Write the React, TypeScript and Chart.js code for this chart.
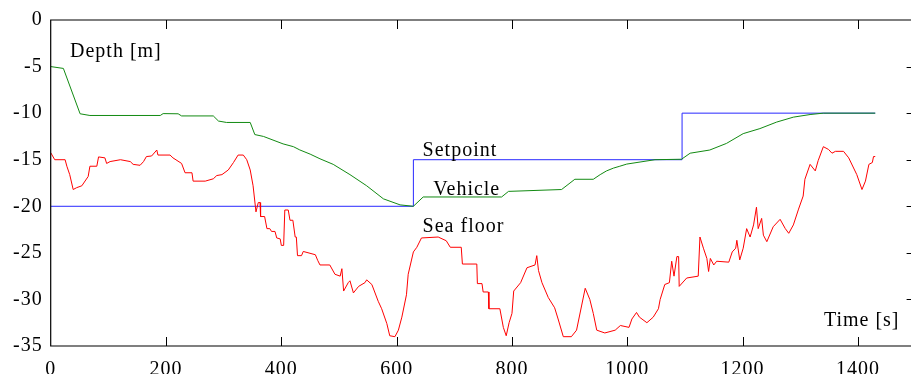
import React, { useEffect, useRef } from "react";
import { Chart, registerables } from "chart.js";

Chart.register(...registerables);

const xTickValues = [0, 200, 400, 600, 800, 1000, 1200, 1400];
const yTickValues = [0, -5, -10, -15, -20, -25, -30, -35];

const setpointTime = [0, 629, 629, 1095, 1095, 1430];
const setpointDepth = [-20, -20, -15, -15, -10, -10];

const vehicleTime = [0, 22, 51, 68, 190, 195, 221, 227, 282, 291, 305, 346, 354, 369, 403, 421, 432, 450, 467, 490, 519, 548, 577, 606, 629, 646, 782, 794, 886, 909, 941, 953, 964, 976, 987, 999, 1048, 1094, 1109, 1143, 1172, 1201, 1230, 1259, 1288, 1317, 1340, 1430];
const vehicleDepth = [-5, -5.2, -10.07, -10.25, -10.25, -10.05, -10.07, -10.3, -10.3, -10.85, -11.0, -11.0, -12.3, -12.5, -13.3, -13.6, -13.95, -14.4, -14.9, -15.5, -16.6, -17.8, -19.2, -19.85, -20, -19.0, -19.0, -18.4, -18.2, -17.1, -17.1, -16.6, -16.2, -15.9, -15.7, -15.47, -15.0, -14.95, -14.3, -13.96, -13.25, -12.2, -11.66, -10.96, -10.43, -10.15, -10.0, -10.0];

const seafloorTime = [0, 7, 25, 28, 33, 39, 45, 54, 65, 68, 80, 83, 94, 97, 103, 121, 138, 143, 155, 161, 166, 175, 184, 186, 207, 212, 227, 233, 245, 247, 268, 282, 288, 297, 308, 317, 325, 334, 340, 346, 351, 356, 360, 363, 364, 371, 375, 380, 383, 389, 392, 398, 400, 404, 406, 412, 415, 420, 424, 426, 428, 435, 438, 459, 463, 467, 484, 493, 502, 505, 508, 516, 519, 525, 534, 545, 548, 557, 568, 574, 583, 588, 597, 603, 609, 617, 620, 629, 635, 643, 672, 686, 693, 712, 714, 739, 740, 748, 750, 759, 760, 779, 785, 790, 795, 800, 803, 815, 826, 840, 843, 846, 852, 863, 874, 880, 889, 903, 912, 921, 927, 935, 941, 947, 961, 979, 988, 1003, 1008, 1016, 1021, 1034, 1045, 1054, 1057, 1065, 1073, 1077, 1081, 1086, 1089, 1090, 1103, 1123, 1126, 1132, 1138, 1141, 1144, 1150, 1155, 1176, 1182, 1188, 1190, 1195, 1201, 1207, 1213, 1219, 1224, 1227, 1233, 1236, 1242, 1253, 1265, 1274, 1280, 1288, 1297, 1305, 1308, 1317, 1326, 1331, 1340, 1349, 1355, 1361, 1375, 1384, 1398, 1407, 1413, 1419, 1425, 1427, 1430];
const seafloorDepth = [-14.24, -15.0, -15.0, -15.7, -16.6, -18.2, -18.0, -17.8, -16.8, -15.7, -15.7, -14.7, -14.8, -15.4, -15.2, -15.0, -15.2, -15.5, -15.6, -15.2, -14.66, -14.6, -13.96, -14.5, -14.5, -14.8, -15.4, -16.4, -16.4, -17.3, -17.3, -17.05, -16.7, -16.6, -16.1, -15.3, -14.5, -14.5, -15.0, -16.1, -17.8, -20.6, -19.6, -19.6, -21.1, -21.1, -22.4, -22.4, -22.7, -22.7, -23.4, -23.5, -24.2, -24.2, -20.4, -20.4, -21.5, -21.5, -23.3, -23.3, -25.3, -25.3, -24.85, -25.2, -25.8, -26.3, -26.3, -27.3, -27.5, -26.7, -29.1, -28.2, -28.0, -29.3, -28.6, -28.2, -27.9, -28.4, -30.2, -31.0, -32.6, -33.9, -34.0, -33.3, -31.9, -29.5, -27.3, -24.9, -24.4, -23.4, -23.3, -23.7, -24.4, -24.4, -26.2, -26.2, -28.3, -28.3, -29.2, -29.2, -31.0, -31.0, -33.0, -33.9, -32.5, -31.5, -29.1, -28.2, -26.6, -26.3, -25.3, -26.9, -28.2, -29.8, -30.9, -32.1, -34.0, -34.0, -33.3, -30.6, -28.8, -30.0, -31.5, -33.3, -33.6, -33.3, -32.8, -33.0, -32.1, -31.4, -31.9, -32.5, -31.9, -31.0, -30.0, -28.4, -28.2, -25.9, -27.5, -25.4, -25.4, -28.6, -27.7, -27.5, -23.3, -24.5, -25.6, -27.0, -25.6, -26.3, -25.9, -26.0, -24.9, -24.5, -23.65, -25.76, -24.5, -22.4, -23.3, -22.0, -20.1, -22.4, -21.3, -23.1, -23.8, -22.2, -21.4, -22.4, -22.9, -22.0, -20.3, -18.9, -17.1, -15.5, -16.2, -15.1, -13.6, -13.9, -14.3, -14.1, -14.1, -14.8, -16.6, -18.2, -17.3, -15.5, -15.3, -14.66, -14.66];

const labelTexts = ["Depth [m]", "Setpoint", "Vehicle", "Sea floor", "Time [s]"];
const labelX = [33.5, 645, 663.5, 645, 1341];
const labelY = [-3.94, -14.55, -18.78, -22.77, -32.89];

const FONT = '"Liberation Serif", "Times New Roman", serif';

function pts(xs: number[], ys: number[]) {
  return xs.map((x, i) => ({ x, y: ys[i] }));
}

const framePlugin = {
  id: "frame",
  beforeDraw(chart: any) {
    chart.ctx.letterSpacing = "1px";
  },
  afterDraw(chart: any) {
    const ctx = chart.ctx;
    const a = chart.chartArea;
    const xs = chart.scales.x;
    const ys = chart.scales.y;
    ctx.save();
    ctx.strokeStyle = "#000";
    ctx.lineWidth = 1.2;
    ctx.beginPath();
    ctx.rect(a.left, a.top, a.right - a.left, a.bottom - a.top);
    ctx.stroke();
    ctx.lineWidth = 1;
    ctx.beginPath();
    const tl = 9;
    xTickValues.forEach((v) => {
      if (v === 0) return;
      const px = Math.round(xs.getPixelForValue(v)) + 0.5;
      ctx.moveTo(px, a.top);
      ctx.lineTo(px, a.top + tl);
      ctx.moveTo(px, a.bottom);
      ctx.lineTo(px, a.bottom - tl);
    });
    yTickValues.forEach((v) => {
      if (v === 0 || v === -35) return;
      const py = Math.round(ys.getPixelForValue(v)) + 0.5;
      ctx.moveTo(a.right, py);
      ctx.lineTo(a.right - tl, py);
    });
    ctx.stroke();
    ctx.fillStyle = "#000";
    ctx.font = "20px " + FONT;
    ctx.letterSpacing = "1px";
    ctx.textAlign = "left";
    ctx.textBaseline = "alphabetic";
    labelTexts.forEach((t, i) => {
      ctx.fillText(t, xs.getPixelForValue(labelX[i]), ys.getPixelForValue(labelY[i]));
    });
    ctx.restore();
  },
};

export default function App() {
  const ref = useRef<HTMLCanvasElement>(null);
  useEffect(() => {
    if (!ref.current) return;
    const chart = new Chart(ref.current, {
      type: "line",
      data: {
        datasets: [
          {
            label: "Sea floor",
            data: pts(seafloorTime, seafloorDepth),
            borderColor: "#ff0000",
            borderWidth: 1,
            pointRadius: 0,
            tension: 0,
            fill: false,
          },
          {
            label: "Vehicle",
            data: pts(vehicleTime, vehicleDepth),
            borderColor: "#128a12",
            borderWidth: 1,
            pointRadius: 0,
            tension: 0,
            fill: false,
          },
          {
            label: "Setpoint",
            data: pts(setpointTime, setpointDepth),
            borderColor: "#2828ff",
            borderWidth: 1,
            pointRadius: 0,
            tension: 0,
            fill: false,
          },
        ],
      },
      options: {
        responsive: false,
        animation: false,
        devicePixelRatio: 1,
        layout: { padding: { top: 14.7, right: 14.4, left: 0, bottom: 0 } },
        plugins: { legend: { display: false }, tooltip: { enabled: false } },
        font: { family: FONT, size: 20 },
        scales: {
          x: {
            type: "linear",
            min: 0,
            max: 1500,
            grid: { display: false, drawTicks: false },
            border: { display: false },
            afterBuildTicks: (s: any) => {
              s.ticks = xTickValues.map((v) => ({ value: v }));
            },
            afterFit: (s: any) => {
              s.height = 28;
            },
            ticks: {
              color: "#000",
              font: { family: FONT, size: 20 },
              padding: 12,
              maxRotation: 0,
              autoSkip: false,
              callback: (v: any) => String(v),
            },
          },
          y: {
            type: "linear",
            min: -35,
            max: 0,
            grid: { display: false, drawTicks: false },
            border: { display: false },
            afterBuildTicks: (s: any) => {
              s.ticks = yTickValues.map((v) => ({ value: v }));
            },
            afterFit: (s: any) => {
              s.width = 50.7;
            },
            ticks: {
              color: "#000",
              font: { family: FONT, size: 20 },
              padding: 8,
              autoSkip: false,
              callback: (v: any) => String(v),
            },
          },
        },
      } as any,
      plugins: [framePlugin],
    });
    return () => chart.destroy();
  }, []);
  return (
    <div style={{ position: "absolute", left: 0, top: 0, width: 911, height: 374, overflow: "hidden", background: "#fff" }}>
      <canvas ref={ref} width={930} height={374} style={{ display: "block", width: 930, height: 374 }} />
    </div>
  );
}
